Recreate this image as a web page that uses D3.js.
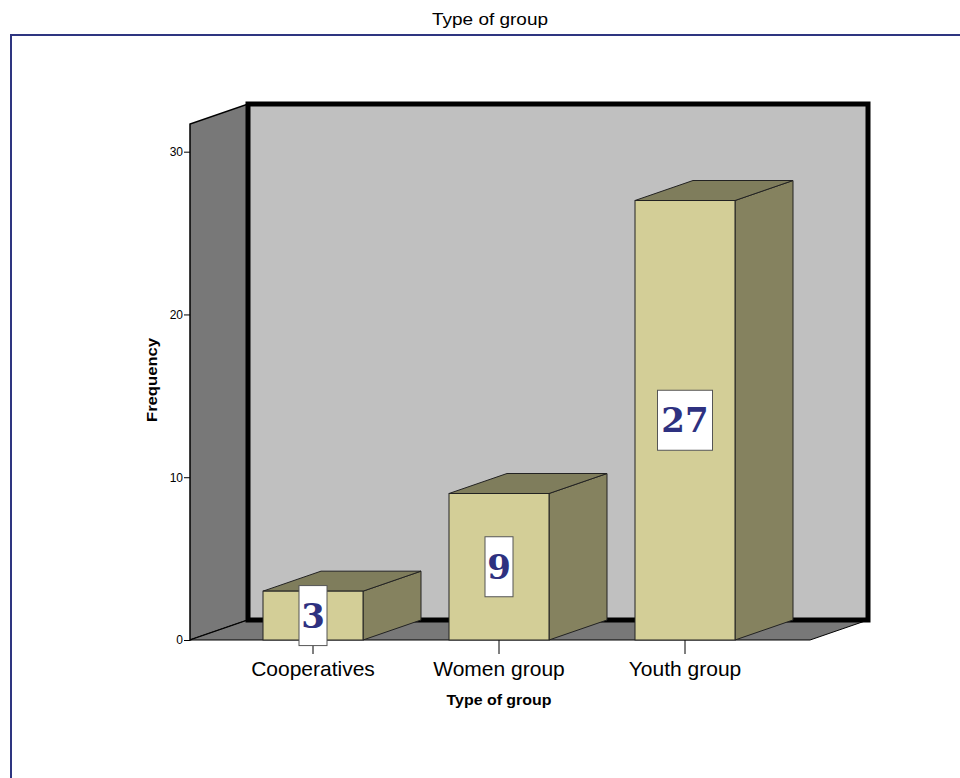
<!DOCTYPE html>
<html>
<head>
<meta charset="utf-8">
<script src="https://cdn.jsdelivr.net/npm/d3@7"></script>
<style>
  body { margin: 0; background: #fff; }
  svg { display: block; font-family: Arial, "Liberation Sans", sans-serif; }
</style>
</head>
<body>
<div id="chart"></div>
<script>
// data
var categories = ["Cooperatives", "Women group", "Youth group"];
var counts = [3, 9, 27];
var yTicks = [0, 10, 20, 30];

var W = 960, H = 778;
var depthX = 58, depthY = -20;   // 3d offset
var barW = 100;

var svg = d3.select("#chart").append("svg")
  .attr("width", W).attr("height", H);

// outer frame
svg.append("path")
  .attr("d", "M11,778 L11,35 L960,35")
  .attr("fill", "none").attr("stroke", "#2e3580").attr("stroke-width", 2);

svg.append("text")
  .attr("x", 490).attr("y", 25)
  .attr("text-anchor", "middle")
  .attr("textLength", 116).attr("lengthAdjust", "spacingAndGlyphs")
  .style("font-size", "17px")
  .text("Type of group");

var y = d3.scaleLinear().domain([0, 31.7]).range([640, 124]);
var x = d3.scaleBand().domain(categories).range([220, 778]).padding(0);

var x0 = 190, x1 = 810;
var yTop = y(31.7);

// left wall
svg.append("polygon")
  .attr("points", [[x0, y(0)], [x0, yTop], [x0 + depthX, yTop + depthY], [x0 + depthX, y(0) + depthY]].join(" "))
  .attr("fill", "#787878").attr("stroke", "#000").attr("stroke-width", 1.5);

// floor
svg.append("polygon")
  .attr("points", [[x0, y(0)], [x1, y(0)], [x1 + depthX, y(0) + depthY], [x0 + depthX, y(0) + depthY]].join(" "))
  .attr("fill", "#787878").attr("stroke", "#000").attr("stroke-width", 1);

// back wall
svg.append("rect")
  .attr("x", x0 + depthX).attr("y", yTop + depthY)
  .attr("width", x1 - x0).attr("height", y(0) - yTop)
  .attr("fill", "#c0c0c0").attr("stroke", "#000").attr("stroke-width", 5);

// y axis
var yAxis = d3.axisLeft(y).tickValues(yTicks).tickSize(6).tickSizeOuter(0);
var ya = svg.append("g").attr("transform", "translate(" + x0 + ",0)").call(yAxis);
ya.select(".domain").remove();
ya.selectAll("text").style("font-size", "12px").style("font-family", "Arial").attr("dx", 2);

// x axis
var xAxis = d3.axisBottom(x).tickSize(14).tickSizeOuter(0);
var xa = svg.append("g").attr("transform", "translate(0," + y(0) + ")").call(xAxis);
xa.select(".domain").remove();
xa.selectAll("text").style("font-size", "21px").style("font-family", "Arial").attr("dy", "0.9em");

// bars
var bars = svg.append("g").selectAll("g.bar")
  .data(categories.map(function(c, i) { return {cat: c, val: counts[i]}; }))
  .enter().append("g");

bars.each(function(d) {
  var g = d3.select(this);
  var bx = x(d.cat) + x.bandwidth() / 2 - barW / 2;
  var by = y(d.val), b0 = y(0);
  // side
  g.append("polygon")
    .attr("points", [[bx + barW, b0], [bx + barW, by], [bx + barW + depthX, by + depthY], [bx + barW + depthX, b0 + depthY]].join(" "))
    .attr("fill", "#85825f").attr("stroke", "#222").attr("stroke-width", 1);
  // top
  g.append("polygon")
    .attr("points", [[bx, by], [bx + barW, by], [bx + barW + depthX, by + depthY], [bx + depthX, by + depthY]].join(" "))
    .attr("fill", "#7f7d5c").attr("stroke", "#222").attr("stroke-width", 1);
  // front
  g.append("rect")
    .attr("x", bx).attr("y", by).attr("width", barW).attr("height", b0 - by)
    .attr("fill", "#d3ce97").attr("stroke", "#222").attr("stroke-width", 1);

  // value label
  var cx = bx + barW / 2, cy = (by + b0) / 2;
  var bw = String(d.val).length * 27 + 1;
  g.append("rect")
    .attr("x", cx - bw / 2).attr("y", cy - 30).attr("width", bw).attr("height", 60)
    .attr("fill", "#fff").attr("stroke", "#555").attr("stroke-width", 1);
  g.append("text")
    .attr("x", cx).attr("y", cy + 12)
    .attr("text-anchor", "middle")
    .style("font-family", "'DejaVu Serif', serif")
    .style("font-weight", "bold")
    .style("font-size", "34px")
    .attr("fill", "#2e3180")
    .text(d.val);
});

// axis titles
svg.append("text")
  .attr("x", 499).attr("y", 705)
  .attr("text-anchor", "middle")
  .attr("textLength", 105).attr("lengthAdjust", "spacingAndGlyphs")
  .style("font-size", "15px").style("font-weight", "bold")
  .text("Type of group");

svg.append("text")
  .attr("transform", "translate(157,380) rotate(-90)")
  .attr("text-anchor", "middle")
  .attr("textLength", 84).attr("lengthAdjust", "spacingAndGlyphs")
  .style("font-size", "15px").style("font-weight", "bold")
  .text("Frequency");
</script>
</body>
</html>
